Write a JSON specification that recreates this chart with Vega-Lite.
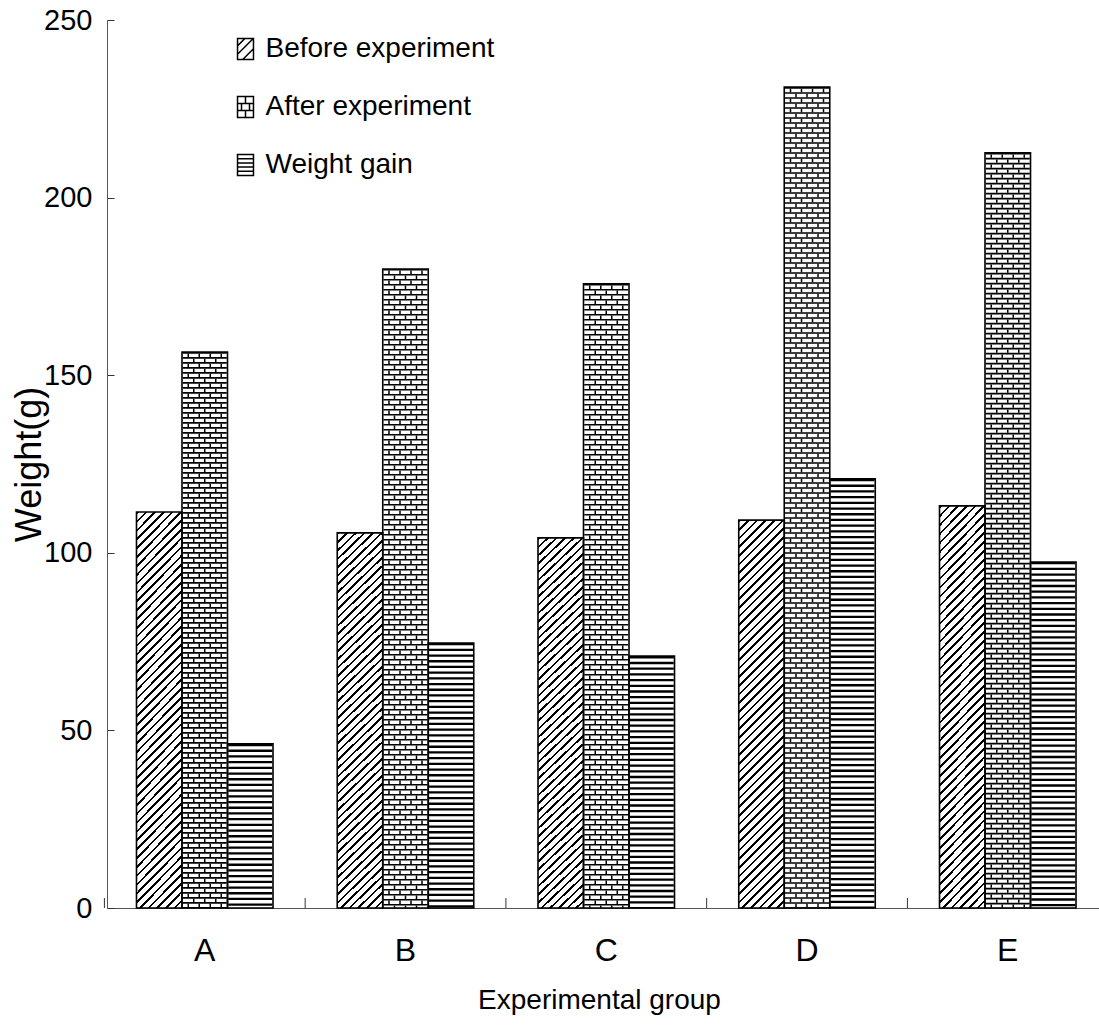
{
  "$schema": "https://vega.github.io/schema/vega-lite/v6.json",
  "autosize": "none",
  "width": 992,
  "height": 888,
  "padding": {"left": 107, "top": 20, "right": 0, "bottom": 117},
  "background": "white",
  "config": {
    "view": {"stroke": null},
    "axis": {"grid": false}
  },
  "data": {
    "values": [
      {"group": "A", "series": "Before experiment", "value": 111.5},
      {"group": "A", "series": "After experiment", "value": 156.5},
      {"group": "A", "series": "Weight gain", "value": 46.2},
      {"group": "B", "series": "Before experiment", "value": 105.6},
      {"group": "B", "series": "After experiment", "value": 179.9},
      {"group": "B", "series": "Weight gain", "value": 74.6},
      {"group": "C", "series": "Before experiment", "value": 104.2},
      {"group": "C", "series": "After experiment", "value": 175.7},
      {"group": "C", "series": "Weight gain", "value": 70.9},
      {"group": "D", "series": "Before experiment", "value": 109.2},
      {"group": "D", "series": "After experiment", "value": 231.1},
      {"group": "D", "series": "Weight gain", "value": 120.8},
      {"group": "E", "series": "Before experiment", "value": 113.2},
      {"group": "E", "series": "After experiment", "value": 212.6},
      {"group": "E", "series": "Weight gain", "value": 97.4}
    ]
  },
  "encoding": {
    "x": {
      "field": "group",
      "type": "nominal",
      "scale": {"paddingInner": 0.32, "paddingOuter": 0.1307, "align": 0.562},
      "axis": {
        "labelAngle": 0,
        "labelFont": "Liberation Sans",
        "labelFontSize": 32,
        "labelColor": "black",
        "labelPadding": 27,
        "ticks": false,
        "domainColor": "#555",
        "domainWidth": 1,
        "title": "Experimental group",
        "titleFont": "Liberation Sans",
        "titleFontSize": 28,
        "titleFontWeight": "normal",
        "titleColor": "black",
        "titleX": 492,
        "titleY": 100,
        "titleBaseline": "alphabetic",
        "titleAlign": "center"
      }
    },
    "y": {
      "field": "value",
      "type": "quantitative",
      "scale": {"domain": [0, 250], "nice": false},
      "axis": {
        "values": [0, 50, 100, 150, 200, 250],
        "labelFont": "Liberation Sans",
        "labelFontSize": 29,
        "labelColor": "black",
        "labelPadding": 22,
        "tickSize": -7,
        "tickColor": "#333",
        "tickWidth": 1,
        "domainColor": "#555",
        "domainWidth": 1,
        "title": "Weight(g)",
        "titleFont": "Liberation Sans",
        "titleFontSize": 36,
        "titleFontWeight": "normal",
        "titleColor": "black",
        "titleAngle": -90,
        "titleX": -67,
        "titleY": 444,
        "titleBaseline": "alphabetic",
        "titleAlign": "center"
      }
    }
  },
  "layer": [
    {
      "mark": {"type": "bar", "strokeWidth": 0, "fill": "white"},
      "encoding": {
        "xOffset": {
          "field": "series",
          "type": "nominal",
          "scale": {"domain": ["Before experiment", "After experiment", "Weight gain"], "paddingInner": 0, "paddingOuter": 0}
        }
      }
    },
    {
      "transform": [{"filter": "datum.series === 'Before experiment'"}],
      "mark": {
        "type": "bar",
        "strokeWidth": 0,
        "fill": {
          "gradient": "linear", "x1": 0, "y1": 0, "x2": 0.1294, "y2": 1.1022,
          "stops": [
            {"offset":0,"color":"#000"},{"offset":0.006,"color":"#000"},{"offset":0.006,"color":"#fff"},{"offset":0.02,"color":"#fff"},
            {"offset":0.02,"color":"#000"},{"offset":0.026,"color":"#000"},{"offset":0.026,"color":"#fff"},{"offset":0.04,"color":"#fff"},
            {"offset":0.04,"color":"#000"},{"offset":0.046,"color":"#000"},{"offset":0.046,"color":"#fff"},{"offset":0.06,"color":"#fff"},
            {"offset":0.06,"color":"#000"},{"offset":0.066,"color":"#000"},{"offset":0.066,"color":"#fff"},{"offset":0.08,"color":"#fff"},
            {"offset":0.08,"color":"#000"},{"offset":0.086,"color":"#000"},{"offset":0.086,"color":"#fff"},{"offset":0.1,"color":"#fff"},
            {"offset":0.1,"color":"#000"},{"offset":0.106,"color":"#000"},{"offset":0.106,"color":"#fff"},{"offset":0.12,"color":"#fff"},
            {"offset":0.12,"color":"#000"},{"offset":0.126,"color":"#000"},{"offset":0.126,"color":"#fff"},{"offset":0.14,"color":"#fff"},
            {"offset":0.14,"color":"#000"},{"offset":0.146,"color":"#000"},{"offset":0.146,"color":"#fff"},{"offset":0.16,"color":"#fff"},
            {"offset":0.16,"color":"#000"},{"offset":0.166,"color":"#000"},{"offset":0.166,"color":"#fff"},{"offset":0.18,"color":"#fff"},
            {"offset":0.18,"color":"#000"},{"offset":0.186,"color":"#000"},{"offset":0.186,"color":"#fff"},{"offset":0.2,"color":"#fff"},
            {"offset":0.2,"color":"#000"},{"offset":0.206,"color":"#000"},{"offset":0.206,"color":"#fff"},{"offset":0.22,"color":"#fff"},
            {"offset":0.22,"color":"#000"},{"offset":0.226,"color":"#000"},{"offset":0.226,"color":"#fff"},{"offset":0.24,"color":"#fff"},
            {"offset":0.24,"color":"#000"},{"offset":0.246,"color":"#000"},{"offset":0.246,"color":"#fff"},{"offset":0.26,"color":"#fff"},
            {"offset":0.26,"color":"#000"},{"offset":0.266,"color":"#000"},{"offset":0.266,"color":"#fff"},{"offset":0.28,"color":"#fff"},
            {"offset":0.28,"color":"#000"},{"offset":0.286,"color":"#000"},{"offset":0.286,"color":"#fff"},{"offset":0.3,"color":"#fff"},
            {"offset":0.3,"color":"#000"},{"offset":0.306,"color":"#000"},{"offset":0.306,"color":"#fff"},{"offset":0.32,"color":"#fff"},
            {"offset":0.32,"color":"#000"},{"offset":0.326,"color":"#000"},{"offset":0.326,"color":"#fff"},{"offset":0.34,"color":"#fff"},
            {"offset":0.34,"color":"#000"},{"offset":0.346,"color":"#000"},{"offset":0.346,"color":"#fff"},{"offset":0.36,"color":"#fff"},
            {"offset":0.36,"color":"#000"},{"offset":0.366,"color":"#000"},{"offset":0.366,"color":"#fff"},{"offset":0.38,"color":"#fff"},
            {"offset":0.38,"color":"#000"},{"offset":0.386,"color":"#000"},{"offset":0.386,"color":"#fff"},{"offset":0.4,"color":"#fff"},
            {"offset":0.4,"color":"#000"},{"offset":0.406,"color":"#000"},{"offset":0.406,"color":"#fff"},{"offset":0.42,"color":"#fff"},
            {"offset":0.42,"color":"#000"},{"offset":0.426,"color":"#000"},{"offset":0.426,"color":"#fff"},{"offset":0.44,"color":"#fff"},
            {"offset":0.44,"color":"#000"},{"offset":0.446,"color":"#000"},{"offset":0.446,"color":"#fff"},{"offset":0.46,"color":"#fff"},
            {"offset":0.46,"color":"#000"},{"offset":0.466,"color":"#000"},{"offset":0.466,"color":"#fff"},{"offset":0.48,"color":"#fff"},
            {"offset":0.48,"color":"#000"},{"offset":0.486,"color":"#000"},{"offset":0.486,"color":"#fff"},{"offset":0.5,"color":"#fff"},
            {"offset":0.5,"color":"#000"},{"offset":0.506,"color":"#000"},{"offset":0.506,"color":"#fff"},{"offset":0.52,"color":"#fff"},
            {"offset":0.52,"color":"#000"},{"offset":0.526,"color":"#000"},{"offset":0.526,"color":"#fff"},{"offset":0.54,"color":"#fff"},
            {"offset":0.54,"color":"#000"},{"offset":0.546,"color":"#000"},{"offset":0.546,"color":"#fff"},{"offset":0.56,"color":"#fff"},
            {"offset":0.56,"color":"#000"},{"offset":0.566,"color":"#000"},{"offset":0.566,"color":"#fff"},{"offset":0.58,"color":"#fff"},
            {"offset":0.58,"color":"#000"},{"offset":0.586,"color":"#000"},{"offset":0.586,"color":"#fff"},{"offset":0.6,"color":"#fff"},
            {"offset":0.6,"color":"#000"},{"offset":0.606,"color":"#000"},{"offset":0.606,"color":"#fff"},{"offset":0.62,"color":"#fff"},
            {"offset":0.62,"color":"#000"},{"offset":0.626,"color":"#000"},{"offset":0.626,"color":"#fff"},{"offset":0.64,"color":"#fff"},
            {"offset":0.64,"color":"#000"},{"offset":0.646,"color":"#000"},{"offset":0.646,"color":"#fff"},{"offset":0.66,"color":"#fff"},
            {"offset":0.66,"color":"#000"},{"offset":0.666,"color":"#000"},{"offset":0.666,"color":"#fff"},{"offset":0.68,"color":"#fff"},
            {"offset":0.68,"color":"#000"},{"offset":0.686,"color":"#000"},{"offset":0.686,"color":"#fff"},{"offset":0.7,"color":"#fff"},
            {"offset":0.7,"color":"#000"},{"offset":0.706,"color":"#000"},{"offset":0.706,"color":"#fff"},{"offset":0.72,"color":"#fff"},
            {"offset":0.72,"color":"#000"},{"offset":0.726,"color":"#000"},{"offset":0.726,"color":"#fff"},{"offset":0.74,"color":"#fff"},
            {"offset":0.74,"color":"#000"},{"offset":0.746,"color":"#000"},{"offset":0.746,"color":"#fff"},{"offset":0.76,"color":"#fff"},
            {"offset":0.76,"color":"#000"},{"offset":0.766,"color":"#000"},{"offset":0.766,"color":"#fff"},{"offset":0.78,"color":"#fff"},
            {"offset":0.78,"color":"#000"},{"offset":0.786,"color":"#000"},{"offset":0.786,"color":"#fff"},{"offset":0.8,"color":"#fff"},
            {"offset":0.8,"color":"#000"},{"offset":0.806,"color":"#000"},{"offset":0.806,"color":"#fff"},{"offset":0.82,"color":"#fff"},
            {"offset":0.82,"color":"#000"},{"offset":0.826,"color":"#000"},{"offset":0.826,"color":"#fff"},{"offset":0.84,"color":"#fff"},
            {"offset":0.84,"color":"#000"},{"offset":0.846,"color":"#000"},{"offset":0.846,"color":"#fff"},{"offset":0.86,"color":"#fff"},
            {"offset":0.86,"color":"#000"},{"offset":0.866,"color":"#000"},{"offset":0.866,"color":"#fff"},{"offset":0.88,"color":"#fff"},
            {"offset":0.88,"color":"#000"},{"offset":0.886,"color":"#000"},{"offset":0.886,"color":"#fff"},{"offset":0.9,"color":"#fff"},
            {"offset":0.9,"color":"#000"},{"offset":0.906,"color":"#000"},{"offset":0.906,"color":"#fff"},{"offset":0.92,"color":"#fff"},
            {"offset":0.92,"color":"#000"},{"offset":0.926,"color":"#000"},{"offset":0.926,"color":"#fff"},{"offset":0.94,"color":"#fff"},
            {"offset":0.94,"color":"#000"},{"offset":0.946,"color":"#000"},{"offset":0.946,"color":"#fff"},{"offset":0.96,"color":"#fff"},
            {"offset":0.96,"color":"#000"},{"offset":0.966,"color":"#000"},{"offset":0.966,"color":"#fff"},{"offset":0.98,"color":"#fff"},
            {"offset":0.98,"color":"#000"},{"offset":0.986,"color":"#000"},{"offset":0.986,"color":"#fff"},{"offset":1,"color":"#fff"}
          ]
        }
      },
      "encoding": {"xOffset": {"field": "series", "type": "nominal"}}
    },
    {
      "transform": [{"filter": "datum.series === 'After experiment'"}],
      "mark": {"type": "rule", "stroke": "black", "strokeWidth": 44, "strokeCap": "butt", "strokeDash": [1.6, 3.4]},
      "encoding": {"y2": {"datum": 0}, "xOffset": {"field": "series", "type": "nominal"}}
    },
    {
      "transform": [{"filter": "datum.series === 'After experiment'"}],
      "mark": {"type": "rule", "stroke": "black", "strokeWidth": 1.5, "strokeCap": "butt", "strokeDash": [3.4, 6.6], "strokeDashOffset": 8.4},
      "encoding": {"y2": {"datum": 0}, "x": {"field": "group", "type": "nominal", "bandPosition": 0.3791}}
    },
    {
      "transform": [{"filter": "datum.series === 'After experiment'"}],
      "mark": {"type": "rule", "stroke": "black", "strokeWidth": 1.5, "strokeCap": "butt", "strokeDash": [3.4, 6.6], "strokeDashOffset": 8.4},
      "encoding": {"y2": {"datum": 0}, "x": {"field": "group", "type": "nominal", "bandPosition": 0.4597}}
    },
    {
      "transform": [{"filter": "datum.series === 'After experiment'"}],
      "mark": {"type": "rule", "stroke": "black", "strokeWidth": 1.5, "strokeCap": "butt", "strokeDash": [3.4, 6.6], "strokeDashOffset": 8.4},
      "encoding": {"y2": {"datum": 0}, "x": {"field": "group", "type": "nominal", "bandPosition": 0.5403}}
    },
    {
      "transform": [{"filter": "datum.series === 'After experiment'"}],
      "mark": {"type": "rule", "stroke": "black", "strokeWidth": 1.5, "strokeCap": "butt", "strokeDash": [3.4, 6.6], "strokeDashOffset": 8.4},
      "encoding": {"y2": {"datum": 0}, "x": {"field": "group", "type": "nominal", "bandPosition": 0.6209}}
    },
    {
      "transform": [{"filter": "datum.series === 'After experiment'"}],
      "mark": {"type": "rule", "stroke": "black", "strokeWidth": 1.5, "strokeCap": "butt", "strokeDash": [3.4, 6.6], "strokeDashOffset": 3.4},
      "encoding": {"y2": {"datum": 0}, "x": {"field": "group", "type": "nominal", "bandPosition": 0.4194}}
    },
    {
      "transform": [{"filter": "datum.series === 'After experiment'"}],
      "mark": {"type": "rule", "stroke": "black", "strokeWidth": 1.5, "strokeCap": "butt", "strokeDash": [3.4, 6.6], "strokeDashOffset": 3.4},
      "encoding": {"y2": {"datum": 0}, "x": {"field": "group", "type": "nominal", "bandPosition": 0.5}}
    },
    {
      "transform": [{"filter": "datum.series === 'After experiment'"}],
      "mark": {"type": "rule", "stroke": "black", "strokeWidth": 1.5, "strokeCap": "butt", "strokeDash": [3.4, 6.6], "strokeDashOffset": 3.4},
      "encoding": {"y2": {"datum": 0}, "x": {"field": "group", "type": "nominal", "bandPosition": 0.5806}}
    },
    {
      "transform": [{"filter": "datum.series === 'Weight gain'"}],
      "mark": {"type": "rule", "stroke": "black", "strokeWidth": 44, "strokeCap": "butt", "strokeDash": [2.3, 3.4]},
      "encoding": {"y2": {"datum": 0}, "xOffset": {"field": "series", "type": "nominal"}}
    },
    {
      "mark": {"type": "bar", "filled": false, "stroke": "black", "strokeWidth": 1.6},
      "encoding": {"xOffset": {"field": "series", "type": "nominal"}}
    },
    {
      "transform": [{"filter": "datum.series === 'Before experiment'"}],
      "mark": {"type": "rule", "stroke": "#333", "strokeWidth": 1},
      "encoding": {
        "x": {"field": "group", "type": "nominal", "bandPosition": -0.235},
        "y": {"datum": 0},
        "y2": {"datum": 2.8}
      }
    },
    {
      "mark": {"type": "point", "opacity": 0},
      "encoding": {
        "shape": {
          "field": "series",
          "type": "nominal",
          "scale": {
            "domain": ["Before experiment", "After experiment", "Weight gain"],
            "range": [
              "M-0.76,-1H0.76V1H-0.76Z M-0.76,-0.3L-0.06,-1 M-0.76,0.5L0.74,-1 M-0.26,1L0.76,-0.02",
              "M-0.76,-1H0.76V1H-0.76Z M-0.76,-0.33H0.76 M-0.76,0.33H0.76 M0,-1V-0.33 M-0.38,-0.33V0.33 M0.38,-0.33V0.33 M0,0.33V1",
              "M-0.76,-1H0.76V1H-0.76Z M-0.76,-0.6H0.76 M-0.76,-0.2H0.76 M-0.76,0.2H0.76 M-0.76,0.6H0.76"
            ]
          },
          "legend": {
            "title": null,
            "orient": "none",
            "legendX": 124.5,
            "legendY": 15,
            "direction": "vertical",
            "padding": 0,
            "labelFont": "Liberation Sans",
            "labelFontSize": 28,
            "labelColor": "black",
            "labelLimit": 400,
            "labelOffset": 6,
            "rowPadding": 30,
            "symbolSize": 441,
            "symbolOpacity": 1,
            "symbolFillColor": "white",
            "symbolStrokeColor": "black",
            "symbolStrokeWidth": 1.5
          }
        }
      }
    }
  ]
}
